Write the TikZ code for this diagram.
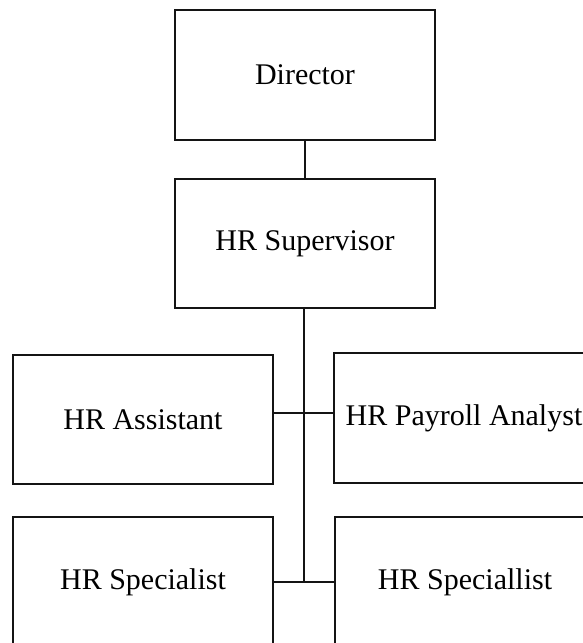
\documentclass[tikz,border=0pt]{standalone}
\usepackage{fontspec}
\setmainfont{Liberation Serif}
\usepackage{tikz}
\usetikzlibrary{positioning}
\definecolor{mline}{rgb}{0.08, 0.08, 0.08}
\tikzset{
  rolebox/.style={draw=mline, line width=2pt, minimum width=260pt, minimum height=130pt,
    inner sep=0pt, font=\fontsize{30}{36}\selectfont},
  link/.style={draw=mline, line width=2pt}
}

\begin{document}
\begin{tikzpicture}[x=1pt, y=1pt]
      \useasboundingbox (0, 0) rectangle (582, -643);
      \node [rolebox] (dir) at (305, -75) {Director};
      \node [rolebox, minimum height=129pt] (sup) at (305, -243.5) {HR Supervisor};
      \node [rolebox, minimum height=129pt] (asst) at (143, -419.5) {HR Assistant};
      \node [rolebox] (pay) at (464, -418) {HR Payroll Analyst};
      \node [rolebox] (spec) at (143, -582) {HR Specialist};
      \node [rolebox] (specl) at (465, -582) {HR Speciallist};

      \coordinate (j1) at (304, -413);
      \coordinate (j2) at (304, -582);

      \draw [link] (dir.south) -- (sup.south |- dir.south) -- (sup.north);
      \draw [link] (sup.south -| j1) -- (j2);
      \draw [link] (asst.east |- j1) -- (pay.west |- j1);
      \draw [link] (spec.east) -- (specl.west);
    \end{tikzpicture}
\end{document}
